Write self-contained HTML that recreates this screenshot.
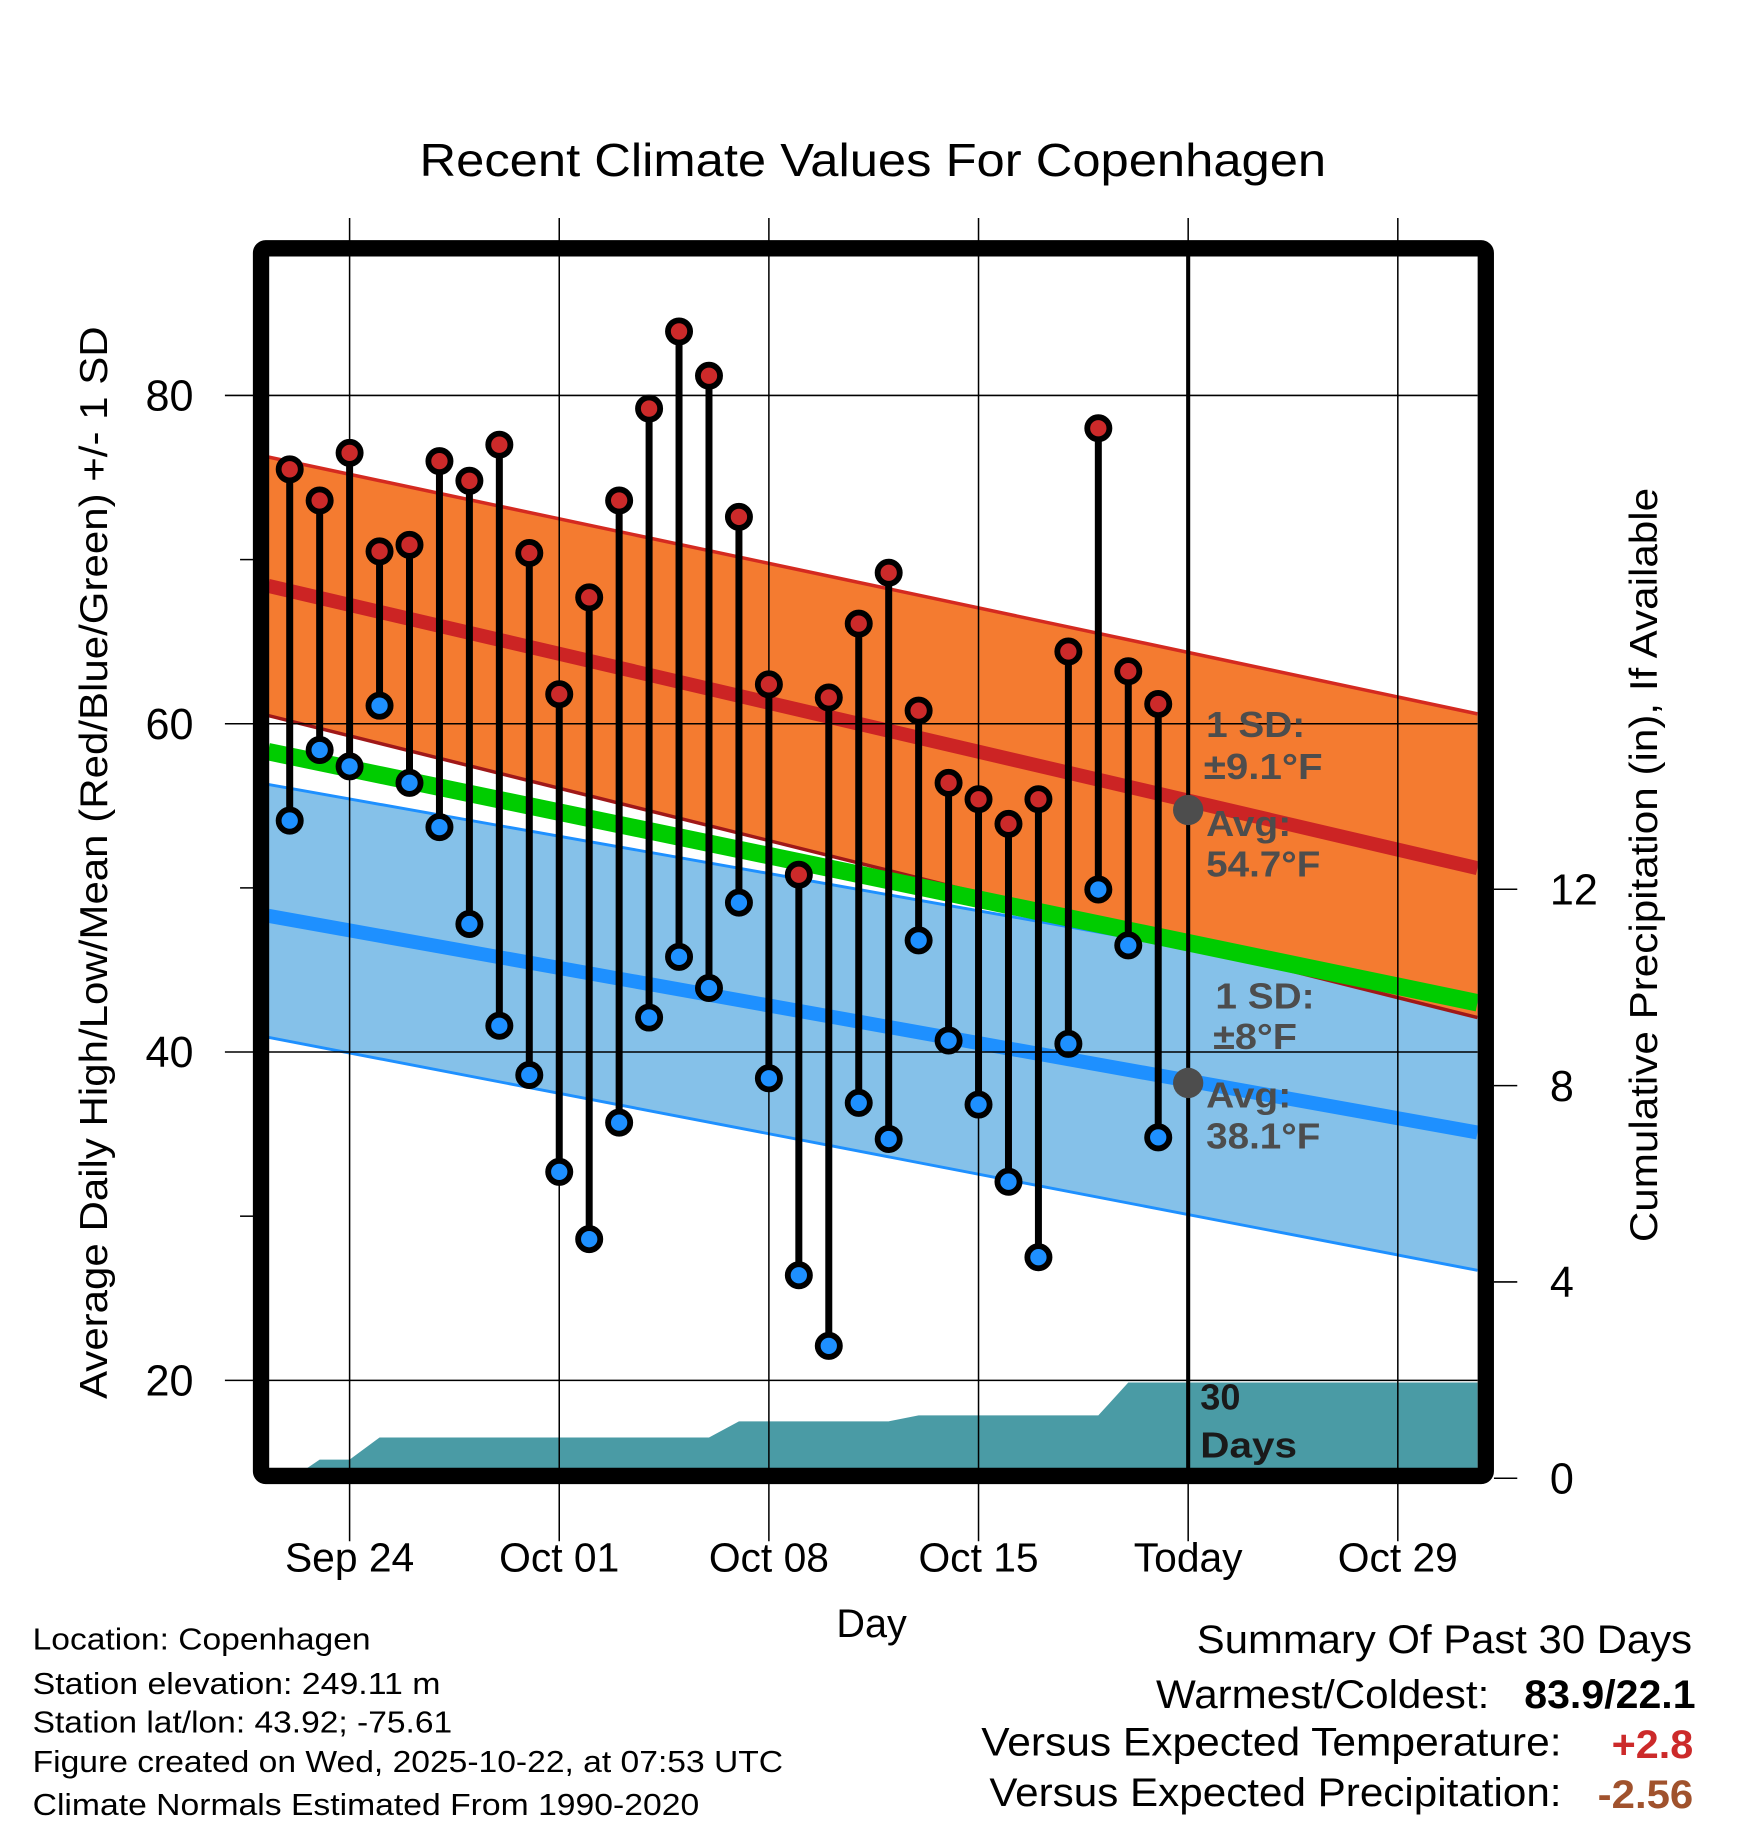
<!DOCTYPE html>
<html><head><meta charset="utf-8"><style>
html,body{margin:0;padding:0;background:#fff;}
svg{display:block;font-family:"Liberation Sans",sans-serif;}
</style></head><body>
<svg id="chart" width="1748" height="1828" viewBox="0 0 1500 1568" preserveAspectRatio="none" xmlns="http://www.w3.org/2000/svg">
<g id="under"></g>
<g id="marks"></g>
<g id="over"></g>
</svg>
<script>
// ---- data ----
const dayLabels = ["Sep 24","Oct 01","Oct 08","Oct 15","Today","Oct 29"];
const dayTicks = [0,7,14,21,28,35];
const obsDays = [-2,-1,0,1,2,3,4,5,6,7,8,9,10,11,12,13,14,15,16,17,18,19,20,21,22,23,24,25,26,27];
const highs = [75.5,73.6,76.5,70.5,70.9,76.0,74.8,77.0,70.4,61.8,67.7,73.6,79.2,83.9,81.2,72.6,62.4,50.8,61.6,66.1,69.2,60.8,56.4,55.4,53.9,55.4,64.4,78.0,63.2,61.2];
const lows = [54.1,58.4,57.4,61.1,56.4,53.7,47.8,41.6,38.6,32.7,28.6,35.7,42.1,45.8,43.9,49.1,38.4,26.4,22.1,36.9,34.7,46.8,40.7,36.8,32.1,27.5,40.5,49.9,46.5,34.8];
const precipCum = [0,0.38,0.38,0.83,0.83,0.83,0.83,0.83,0.83,0.83,0.83,0.83,0.83,0.83,0.83,1.16,1.16,1.16,1.16,1.16,1.16,1.28,1.28,1.28,1.28,1.28,1.28,1.28,1.95,1.95];
const normDays = [-2.72,37.66];
const hiUpper = [76.25,60.6];
const hiAvg = [68.4,51.2];
const hiLower = [60.5,42.1];
const meanLine = [58.3,43.0];
const loUpper = [56.3,43.2];
const loAvg = [48.3,35.1];
const loLower = [40.9,26.7];
const tempTicks = [20,40,60,80];
const tempMinor = [30,50,70];
const precipTicks = [0,4,8,12];

// ---- axes ----
const X0=230,X1=1268,Y0=220,Y1=1260;
const xs = d => 300 + d*25.7;
const yt = t => 1184 - (t-20)*14.08;
const yp = p => 1268 - p*42.1;
const NS="http://www.w3.org/2000/svg";
function mk(parent,tag,attrs){const e=document.createElementNS(NS,tag);for(const k in attrs)e.setAttribute(k,attrs[k]);document.getElementById(parent).appendChild(e);return e;}
function txt(parent,str,attrs){const e=mk(parent,'text',attrs);e.textContent=str;return e;}

const defs=mk('under','defs',{});
const cp=document.createElementNS(NS,'clipPath');cp.setAttribute('id','plotclip');
const cr=document.createElementNS(NS,'rect');cr.setAttribute('x',X0);cr.setAttribute('y',Y0);cr.setAttribute('width',X1-X0);cr.setAttribute('height',Y1-Y0);
cp.appendChild(cr);defs.appendChild(cp);
const bands=mk('under','g',{'clip-path':'url(#plotclip)'});


bands.id='bands';
function band(up,lo,fill,name){const p=`${xs(normDays[0])},${yt(up[0])} ${xs(normDays[1])},${yt(up[1])} ${xs(normDays[1])},${yt(lo[1])} ${xs(normDays[0])},${yt(lo[0])}`;const e=mk('bands','polygon',{points:p,fill:fill});}
function line(v,col,w,name){const e=mk('bands','line',{x1:xs(normDays[0]),y1:yt(v[0]),x2:xs(normDays[1]),y2:yt(v[1]),stroke:col,'stroke-width':w});}
band(loUpper,loLower,'#85c1e9','low-sd-band');
line(loUpper,'#1e90ff',2.5,'low-sd-upper');
line(loLower,'#1e90ff',2.5,'low-sd-lower');
line(loAvg,'#1e90ff',12,'low-average-line');
band(hiUpper,hiLower,'#f47b30','high-sd-band');
line(hiLower,'#a01818',3,'high-sd-lower');
line(meanLine,'#00cc00',15,'mean-line');
line(hiUpper,'#d42a20',3,'high-sd-upper');
line(hiAvg,'#cc2424',12,'high-average-line');
// precip
let pp=`${xs(obsDays[0])+14},${Y1} `;
obsDays.forEach((d,i)=>{if(i>0)pp+=`${xs(d)},${Math.min(Y1,yp(precipCum[i]))} `;});
pp+=`${X1},${yp(precipCum[precipCum.length-1])} ${X1},${Y1}`;
const pa=mk('bands','polygon',{points:pp,fill:'#4a9ba5'});



dayTicks.forEach((d,i)=>{
  const g=mk('under','line',{x1:xs(d),x2:xs(d),y1:187,y2:1322,stroke:'#000','stroke-width':1.3});
  
  
  const t=txt('over',dayLabels[i],{x:xs(d),y:1348,'font-size':35,'text-anchor':'middle'});
  
  
});
tempTicks.forEach(v=>{
  const g=mk('over','line',{x1:193,x2:X1,y1:yt(v),y2:yt(v),stroke:'#000','stroke-width':1.3});
  
  
  const t=txt('over',String(v),{x:166,y:yt(v)+13,'font-size':37,'text-anchor':'end'});
  
  
});
tempMinor.forEach(v=>{
  const g=mk('over','line',{x1:206,x2:218,y1:yt(v),y2:yt(v),stroke:'#000','stroke-width':1.3});
  
  
});
precipTicks.forEach(v=>{
  const g=mk('over','line',{x1:1282,x2:1302,y1:yp(v),y2:yp(v),stroke:'#000','stroke-width':1.3});
  
  
  const t=txt('over',String(v),{x:1330,y:yp(v)+13,'font-size':37});
  
  
});

const tl=mk('marks','line',{x1:xs(28),x2:xs(28),y1:Y0,y2:Y1,stroke:'#000','stroke-width':3.5});



obsDays.forEach((d,i)=>{
  const s=mk('marks','line',{x1:xs(d),x2:xs(d),y1:yt(highs[i]),y2:yt(lows[i]),stroke:'#000','stroke-width':6});
  
  
});
obsDays.forEach((d,i)=>{
  const h=mk('marks','circle',{cx:xs(d),cy:yt(highs[i]),r:9.5,fill:'#cc2a2a',stroke:'#000','stroke-width':5});
  
  
  const l=mk('marks','circle',{cx:xs(d),cy:yt(lows[i]),r:9.5,fill:'#1e90ff',stroke:'#000','stroke-width':5});
  
  
});
const todayHi=hiAvg[0]+(hiAvg[1]-hiAvg[0])*(28-normDays[0])/(normDays[1]-normDays[0]);
const todayLo=loAvg[0]+(loAvg[1]-loAvg[0])*(28-normDays[0])/(normDays[1]-normDays[0]);
const d1=mk('marks','circle',{cx:xs(28),cy:yt(todayHi)+8,r:13,fill:'#4d4d4d'});


const d2=mk('marks','circle',{cx:xs(28),cy:yt(todayLo)+2,r:13,fill:'#4d4d4d'});


</script>
<script>
(function(){
const NS="http://www.w3.org/2000/svg";
const over=document.getElementById('over');
function T(str,a,name,len){const e=document.createElementNS(NS,'text');for(const k in a)e.setAttribute(k,a[k]);e.textContent=str;
if(len){e.setAttribute('textLength',len);e.setAttribute('lengthAdjust','spacingAndGlyphs');}


over.appendChild(e);return e;}
const f=document.createElementNS(NS,'rect');
f.setAttribute('x',224);f.setAttribute('y',213);f.setAttribute('width',1051);f.setAttribute('height',1053);
f.setAttribute('fill','none');f.setAttribute('stroke','#000');f.setAttribute('stroke-width',14);f.setAttribute('rx',4);


over.appendChild(f);
T('Recent Climate Values For Copenhagen',{x:749,y:151,'font-size':40,'text-anchor':'middle'},'chart-title',778);
T('Average Daily High/Low/Mean (Red/Blue/Green) +/- 1 SD',{x:0,y:0,'font-size':33,'text-anchor':'middle',transform:'translate(92,740) rotate(-90)'},'y-axis-title',920);
T('Cumulative Precipitation (in), If Available',{x:0,y:0,'font-size':33,'text-anchor':'middle',transform:'translate(1422,742) rotate(-90)'},'precip-axis-title',647);
T('Day',{x:748,y:1404,'font-size':34,'text-anchor':'middle'},'x-axis-title');
const g='#4d4d4d';
const B={'font-size':31,'font-weight':'bold',fill:g};
T('1 SD:',Object.assign({x:1035,y:632},B),'high-sd-label',85);
T('±9.1°F',Object.assign({x:1033,y:668},B),'high-sd-value',102);
T('Avg:',Object.assign({x:1035,y:717},B),'high-avg-label',73);
T('54.7°F',Object.assign({x:1035,y:752},B),'high-avg-value',98);
T('1 SD:',Object.assign({x:1043,y:865},B),'low-sd-label',85);
T('±8°F',Object.assign({x:1041,y:900},B),'low-sd-value',72);
T('Avg:',Object.assign({x:1035,y:950},B),'low-avg-label',73);
T('38.1°F',Object.assign({x:1035,y:985},B),'low-avg-value',98);
T('30',{x:1030,y:1209,'font-size':31,'font-weight':'bold',fill:'#1a1a1a'},'days-count');
T('Days',{x:1030,y:1250,'font-size':31,'font-weight':'bold',fill:'#1a1a1a'},'days-label',83);
const L=[['Location: Copenhagen',1415,290],['Station elevation: 249.11 m',1453,350],['Station lat/lon: 43.92; -75.61',1486,360],['Figure created on Wed, 2025-10-22, at 07:53 UTC',1520,644],['Climate Normals Estimated From 1990-2020',1557,572]];
L.forEach(l=>T(l[0],{x:28,y:l[1],'font-size':26},'footer-info',l[2]));
T('Summary Of Past 30 Days',{x:1452,y:1418,'font-size':34,'text-anchor':'end'},'summary-title',425);
T('Warmest/Coldest:',{x:1278,y:1465,'font-size':34,'text-anchor':'end'},'warmest-coldest-label',286);
T('83.9/22.1',{x:1455,y:1465,'font-size':34,'font-weight':'bold','text-anchor':'end'},'warmest-coldest-value',147);
T('Versus Expected Temperature:',{x:1340,y:1506,'font-size':34,'text-anchor':'end'},'temp-anomaly-label',498);
T('+2.8',{x:1453,y:1508,'font-size':34,'font-weight':'bold','text-anchor':'end',fill:'#cc2a2a'},'temp-anomaly-value',70);
T('Versus Expected Precipitation:',{x:1340,y:1549,'font-size':34,'text-anchor':'end'},'precip-anomaly-label',491);
T('-2.56',{x:1453,y:1551,'font-size':34,'font-weight':'bold','text-anchor':'end',fill:'#a0522d'},'precip-anomaly-value',82);
})();
</script>
</body></html>
